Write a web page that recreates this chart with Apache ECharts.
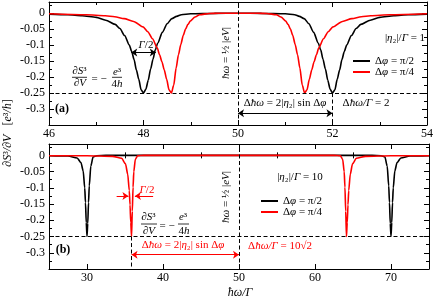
<!DOCTYPE html>
<html><head><meta charset="utf-8">
<script src="https://cdn.jsdelivr.net/npm/echarts@6/dist/echarts.min.js"></script>
<style>html,body{margin:0;padding:0;background:#fff}#c{width:436px;height:300px}</style>
</head><body><div id="c"></div>
<script>
// ---------- data ----------
// panel (a): |eta2|/Gamma = 1
const topBlackX = [46, 46.4, 46.7, 47, 47.2, 47.4, 47.5, 47.6, 47.7, 47.75,
  47.8, 47.85, 47.9, 47.95, 48, 48.05, 48.1, 48.15, 48.2, 48.25,
  48.3, 48.4, 48.5, 48.6, 48.7, 48.8, 49, 49.5, 50, 50.5,
  51, 51.2, 51.3, 51.4, 51.5, 51.6, 51.7, 51.75, 51.8, 51.85,
  51.9, 51.95, 52, 52.05, 52.1, 52.15, 52.2, 52.25, 52.3, 52.4,
  52.5, 52.6, 52.8, 53, 53.3, 53.6, 54];
const topBlackY = [-0.003, -0.005, -0.008, -0.013, -0.022, -0.035, -0.048, -0.07, -0.1, -0.12,
  -0.145, -0.178, -0.207, -0.24, -0.25, -0.238, -0.21, -0.175, -0.145, -0.115,
  -0.094, -0.06, -0.033, -0.017, -0.01, -0.005, -0.002, -0.0005, 0, -0.0005,
  -0.002, -0.005, -0.01, -0.017, -0.033, -0.06, -0.094, -0.115, -0.145, -0.175,
  -0.21, -0.238, -0.25, -0.24, -0.207, -0.178, -0.145, -0.12, -0.1, -0.07,
  -0.048, -0.035, -0.022, -0.013, -0.008, -0.005, -0.003];
const topRedX = [46, 46.79, 47.19, 47.39, 47.59, 47.79, 47.99, 48.09, 48.19, 48.29,
  48.34, 48.39, 48.44, 48.49, 48.54, 48.59,
  48.64, 48.69, 48.74, 48.79, 48.84, 48.89, 48.94, 48.99, 49.09, 49.19, 49.39, 49.59, 50,
  50.41, 50.61, 50.81, 50.91, 51.01, 51.06, 51.11, 51.16, 51.21, 51.26, 51.31, 51.36,
  51.41, 51.46, 51.51, 51.56, 51.61, 51.66, 51.71, 51.81, 51.91, 52.01, 52.21, 52.41, 52.61, 52.81, 53.21, 54];
const topRedY = [-0.002, -0.005, -0.008, -0.011, -0.017, -0.026, -0.043, -0.058, -0.08, -0.108,
  -0.13, -0.152, -0.178, -0.207, -0.24, -0.25,
  -0.225, -0.172, -0.13, -0.098, -0.07, -0.05, -0.035, -0.025, -0.012, -0.005, -0.001, 0, 0,
  0, -0.001, -0.005, -0.012, -0.025, -0.035, -0.05, -0.07, -0.098, -0.13, -0.172, -0.225,
  -0.25, -0.24, -0.207, -0.178, -0.152, -0.13, -0.108, -0.08, -0.058, -0.043, -0.026, -0.017, -0.011, -0.008, -0.005, -0.002];
// panel (b): |eta2|/Gamma = 10
const botBlackX = [25, 27.5, 28.7, 29.2, 29.5, 29.7, 29.8, 29.9, 30, 30.1,
  30.2, 30.3, 30.5, 30.8, 31.3, 32.5, 50, 67.5, 68.7, 69.2,
  69.5, 69.7, 69.8, 69.9, 70, 70.1, 70.2, 70.3, 70.5, 70.8,
  71.3, 72.5, 75];
const botBlackY = [-0.001, -0.002, -0.008, -0.022, -0.048, -0.1, -0.145, -0.207, -0.25, -0.21,
  -0.145, -0.094, -0.033, -0.005, -0.001, 0, 0, 0, -0.001, -0.005,
  -0.033, -0.094, -0.145, -0.21, -0.25, -0.207, -0.145, -0.1, -0.048, -0.022,
  -0.008, -0.002, -0.001];
const botRedX = [25, 30, 33.36, 34.56, 35.06, 35.36, 35.56, 35.66, 35.76, 35.86,
  35.96, 36.06, 36.16, 36.36, 36.66, 37.5, 50, 62.5, 63.34, 63.64,
  63.84, 63.94, 64.04, 64.14, 64.24, 64.34, 64.44, 64.64, 64.94, 65.44,
  66.64, 70, 75];
const botRedY = [-0.001, -0.001, -0.003, -0.009, -0.026, -0.058, -0.108, -0.152, -0.207, -0.25,
  -0.172, -0.098, -0.05, -0.012, -0.001, 0, 0, 0, -0.001, -0.012,
  -0.05, -0.098, -0.172, -0.25, -0.207, -0.152, -0.108, -0.058, -0.026, -0.009,
  -0.003, -0.001, -0.001];

const seriesNames = ['Δφ = π/2', 'Δφ = π/4'];
const yTickLabels = [0, -0.05, -0.1, -0.15, -0.2, -0.25, -0.3];
const topXTicks = [46, 48, 50, 52, 54];
const botXTicks = [30, 40, 50, 60, 70];
const botXMinor = [25, 35, 45, 55, 65, 75];

// ---------- chart ----------
const SERIF = '"Liberation Serif","Times New Roman",serif';
const BLACK = '#000', RED = '#ff0000';
const pair = (xs, ys) => xs.map((x, i) => [x, ys[i]]);

const tickIn = (len) => ({show: true, inside: true, length: len, lineStyle: {color: BLACK, width: 1}});
const lineOn = {show: true, onZero: false, lineStyle: {color: BLACK, width: 1}};
const lbl = {fontFamily: SERIF, fontSize: 12, color: BLACK};

function xAx(grid, pos, min, max, interval, extra) {
  return Object.assign({
    type: 'value', gridIndex: grid, position: pos, min, max, interval,
    axisLine: lineOn, axisTick: tickIn(5), splitLine: {show: false},
    axisLabel: {show: false}
  }, extra || {});
}
function yAx(grid, pos, showLabel) {
  return {
    type: 'value', gridIndex: grid, position: pos, min: -0.35, max: 0.035, interval: 0.05,
    axisLine: lineOn, axisTick: tickIn(5), splitLine: {show: false},
    minorTick: {show: true, splitNumber: 2, length: 3, lineStyle: {color: BLACK, width: 1}},
    axisLabel: showLabel ? Object.assign({
      margin: 4, showMinLabel: false, showMaxLabel: false,
      formatter: v => {
        const m = yTickLabels.find(t => Math.abs(t - v) < 1e-6);
        return m === undefined ? '' : String(m);
      }
    }, lbl) : {show: false}
  };
}

const xAxes = [
  xAx(0, 'bottom', 46, 54, 2, {
    minorTick: {show: true, splitNumber: 2, length: 3, lineStyle: {color: BLACK, width: 1}},
    axisLabel: Object.assign({margin: 3, customValues: topXTicks}, lbl)
  }),
  xAx(0, 'top', 46, 54, 2, {
    minorTick: {show: true, splitNumber: 2, length: 3, lineStyle: {color: BLACK, width: 1}}
  }),
  xAx(1, 'bottom', 25, 75, 5, {
    axisTick: Object.assign(tickIn(5), {customValues: botXTicks}),
    axisLabel: Object.assign({margin: 3, customValues: botXTicks}, lbl)
  }),
  xAx(1, 'bottom', 25, 75, 5, {
    axisLine: {show: false}, axisTick: Object.assign(tickIn(3), {customValues: botXMinor})
  }),
  xAx(1, 'top', 25, 75, 5, {
    axisTick: Object.assign(tickIn(5), {customValues: botXTicks})
  }),
  xAx(1, 'top', 25, 75, 5, {
    axisLine: {show: false}, axisTick: Object.assign(tickIn(3), {customValues: botXMinor})
  })
];
const yAxes = [yAx(0, 'left', true), yAx(0, 'right', false), yAx(1, 'left', true), yAx(1, 'right', false)];

const dash = {type: [4, 2.5], color: BLACK, width: 1};
const solid = (c) => ({type: 'solid', color: c, width: 1});
const AR = 'arrow';

const topMarks = {
  silent: true, symbol: ['none', 'none'], symbolSize: 6, label: {show: false},
  lineStyle: dash, animation: false,
  data: [
    {yAxis: -0.25},
    {xAxis: 50},
    [{coord: [52, -0.25]}, {coord: [52, -0.35]}],
    [{coord: [47.74, -0.123], symbol: AR, lineStyle: solid(BLACK)}, {coord: [48.26, -0.123], symbol: AR}],
    [{coord: [50, -0.313], symbol: AR, lineStyle: solid(BLACK)}, {coord: [52, -0.313], symbol: AR}]
  ]
};
const botMarks = {
  silent: true, symbol: ['none', 'none'], symbolSize: 6, label: {show: false},
  lineStyle: dash, animation: false,
  data: [
    {yAxis: -0.25},
    {xAxis: 50},
    [{coord: [35.86, -0.25]}, {coord: [35.86, -0.35]}],
    [{coord: [33.9, -0.125], lineStyle: solid(RED)}, {coord: [35.45, -0.125], symbol: AR}],
    [{coord: [38.7, -0.125], lineStyle: solid(RED)}, {coord: [36.3, -0.125], symbol: AR}],
    [{coord: [35.86, -0.306], symbol: AR, lineStyle: solid(RED)}, {coord: [50, -0.306], symbol: AR}]
  ]
};

function ser(name, color, xi, yi, data, marks) {
  const s = {
    name, type: 'line', xAxisIndex: xi, yAxisIndex: yi, data, showSymbol: false, symbol: 'none',
    smooth: 0.25, smoothMonotone: 'x',
    lineStyle: {color, width: 1.6}, itemStyle: {color}, animation: false, silent: true
  };
  if (marks) s.markLine = marks;
  return s;
}

const rich = {
  u: {fontFamily: SERIF, fontSize: 11, fontStyle: 'normal', color: BLACK},
  i: {fontFamily: SERIF, fontSize: 11, fontStyle: 'italic', color: BLACK}
};
const legendFmt = n => n === seriesNames[0] ? '{u|Δ}{i|φ}{u| = π/2}' : '{u|Δ}{i|φ}{u| = π/4}';
function legendAt(left, top) {
  return {
    left, top, orient: 'vertical', padding: 0, itemGap: 0, itemWidth: 17, itemHeight: 2,
    icon: 'rect', data: seriesNames, selectedMode: false, formatter: legendFmt,
    textStyle: {fontFamily: SERIF, fontSize: 11, lineHeight: 11, color: BLACK, rich: rich}
  };
}

function txt(x, y, text, o) {
  o = o || {};
  const color = o.color || BLACK, size = o.size || 11;
  const r = {};
  ['u', 'i'].forEach(k => r[k] = {fontFamily: SERIF, fontSize: size, fontStyle: k === 'i' ? 'italic' : 'normal',
    fontWeight: o.weight || 'normal', fill: color, color: color});
  return {
    type: 'text', x, y, rotation: o.rot || 0, silent: true, z: 100,
    style: {text, fill: color, fontFamily: SERIF, fontSize: size, fontWeight: o.weight || 'normal',
      fontStyle: o.style || 'normal', align: 'center', verticalAlign: 'middle',
      textAlign: 'center', textVerticalAlign: 'middle', rich: r}
  };
}
function bar(x1, x2, y, color) {
  return {type: 'line', silent: true, z: 100, shape: {x1, y1: y, x2, y2: y}, style: {stroke: color || BLACK, lineWidth: 0.8}};
}

const graphics = [
  // y-axis title
  txt(8, 133, '{i|∂S}{u|³}{i|/∂V}   {u|[}{i|e}{u|³}{i|/h}{u|]}', {rot: Math.PI / 2, size: 12}),
  // x-axis title
  txt(240, 293, '{i|ħω/Γ}', {size: 12}),
  // panel (a)
  txt(79.5, 71.5, '{i|∂S}{u|³}'), bar(72, 87, 77.3), txt(80, 83.5, '{i|∂V}'),
  txt(99, 79, '{u|= −}'),
  txt(117, 72, '{i|e}{u|³}'), bar(112, 122, 77.3), txt(117, 84, '{u|4}{i|h}'),
  txt(146, 45, '{i|Γ}{u|/2}'),
  txt(62, 109, '{u|(a)}', {weight: 'bold', size: 12}),
  txt(226, 53, '{i|ħω}{u| = ½ |}{i|eV}{u||}', {rot: Math.PI / 2}),
  txt(285, 103, '{u|Δ}{i|ħω}{u| = 2|}{i|η}{u|₂| sin Δ}{i|φ}'),
  txt(366, 103, '{u|Δ}{i|ħω/Γ}{u| = 2}'),
  txt(405, 38, '{u||}{i|η}{u|₂|/}{i|Γ}{u| = 1}'),
  // panel (b)
  txt(148.5, 217, '{i|∂S}{u|³}'), bar(141, 157, 224), txt(149, 231, '{i|∂V}'),
  txt(167, 226, '{u|= −}'),
  txt(183, 217.5, '{i|e}{u|³}'), bar(178, 189, 224), txt(184, 231, '{u|4}{i|h}'),
  txt(147, 190, '{i|Γ}{u|/2}', {color: RED}),
  txt(63, 250, '{u|(b)}', {weight: 'bold', size: 12}),
  txt(226, 197, '{i|ħω}{u| = ½ |}{i|eV}{u||}', {rot: Math.PI / 2}),
  txt(183, 245, '{u|Δ}{i|ħω}{u| = 2|}{i|η}{u|₂| sin Δ}{i|φ}', {color: RED}),
  txt(280, 246, '{u|Δ}{i|ħω/Γ}{u| = 10√2}', {color: RED}),
  txt(300, 177, '{u||}{i|η}{u|₂|/}{i|Γ}{u| = 10}')
];

const chart = echarts.init(document.getElementById('c'), null, {renderer: 'canvas'});
chart.setOption({
  animation: false,
  backgroundColor: '#fff',
  grid: [
    {left: 49, top: 2, width: 380, height: 123},
    {left: 49, top: 144, width: 380, height: 125}
  ],
  xAxis: xAxes,
  yAxis: yAxes,
  legend: [legendAt(353, 55.5), legendAt(261, 195.5)],
  series: [
    ser(seriesNames[0], BLACK, 0, 0, pair(topBlackX, topBlackY), topMarks),
    ser(seriesNames[1], RED, 0, 0, pair(topRedX, topRedY)),
    ser(seriesNames[0], BLACK, 2, 2, pair(botBlackX, botBlackY), botMarks),
    ser(seriesNames[1], RED, 2, 2, pair(botRedX, botRedY))
  ],
  graphic: graphics
});
</script>
</body></html>
